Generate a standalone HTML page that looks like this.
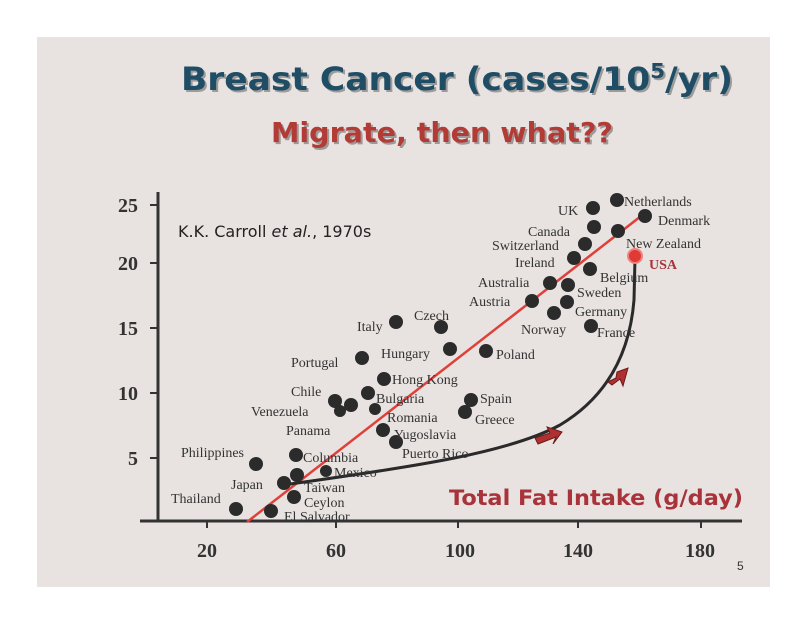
<!DOCTYPE html>
<html><head><meta charset="utf-8"><style>
html,body{margin:0;padding:0;background:#fff;}
svg{display:block;}
.t{font-family:"Liberation Serif",serif;font-size:14px;fill:#333;}
.n{font-family:"Liberation Serif",serif;font-size:20px;font-weight:bold;fill:#333;}
</style></head><body>
<svg width="805" height="622" viewBox="0 0 805 622" xmlns="http://www.w3.org/2000/svg">
<rect x="0" y="0" width="805" height="622" fill="#fff"/>
<rect x="37" y="37" width="733" height="550" fill="#e8e3e1"/>
<g font-family="DejaVu Sans, sans-serif" font-weight="bold">
<text x="183" y="92" font-size="32" fill="#555" opacity="0.5" textLength="552" lengthAdjust="spacingAndGlyphs">Breast Cancer (cases/10<tspan dy="-12" font-size="20">5</tspan><tspan dy="12">/yr)</tspan></text>
<text x="181" y="90" font-size="32" fill="#1f4d65" textLength="552" lengthAdjust="spacingAndGlyphs">Breast Cancer (cases/10<tspan dy="-12" font-size="20">5</tspan><tspan dy="12">/yr)</tspan></text>
<text x="273" y="144" font-size="28" fill="#555" opacity="0.5" textLength="342" lengthAdjust="spacingAndGlyphs">Migrate, then what??</text>
<text x="271" y="142" font-size="28" fill="#b23b36" textLength="342" lengthAdjust="spacingAndGlyphs">Migrate, then what??</text>
<text x="449" y="505" font-size="21" fill="#a8333a" textLength="294" lengthAdjust="spacingAndGlyphs">Total Fat Intake (g/day)</text>
</g>
<text x="178" y="237" font-family="DejaVu Sans, sans-serif" font-size="16" fill="#222">K.K. Carroll <tspan font-style="italic">et al.</tspan>, 1970s</text>
<line x1="158" y1="192" x2="158" y2="522" stroke="#333" stroke-width="3"/>
<line x1="140" y1="521" x2="742" y2="521" stroke="#333" stroke-width="3"/>
<g stroke="#333" stroke-width="2">
<line x1="150" y1="205" x2="158" y2="205"/><line x1="150" y1="263" x2="158" y2="263"/>
<line x1="150" y1="328" x2="158" y2="328"/><line x1="150" y1="393" x2="158" y2="393"/>
<line x1="150" y1="458" x2="158" y2="458"/>
<line x1="207" y1="521" x2="207" y2="528"/><line x1="336" y1="521" x2="336" y2="528"/>
<line x1="458" y1="521" x2="458" y2="528"/><line x1="578" y1="521" x2="578" y2="528"/>
<line x1="701" y1="521" x2="701" y2="528"/>
</g>
<g text-anchor="end">
<text x="138" y="212" class="n">25</text><text x="138" y="270" class="n">20</text>
<text x="138" y="335" class="n">15</text><text x="138" y="400" class="n">10</text>
<text x="138" y="465" class="n">5</text>
</g>
<g text-anchor="middle">
<text x="207" y="557" class="n" font-size="21">20</text><text x="336" y="557" class="n" font-size="21">60</text>
<text x="460" y="557" class="n" font-size="21">100</text><text x="578" y="557" class="n" font-size="21">140</text>
<text x="700" y="557" class="n" font-size="21">180</text>
</g>
<text x="737" y="570" font-family="Liberation Sans,sans-serif" font-size="12" fill="#333">5</text>
<line x1="247" y1="522" x2="645" y2="213" stroke="#e0403a" stroke-width="2.5"/>
<path d="M290,484 C420,466 510,452 560,425 C610,395 630,350 634,300 L635,258" fill="none" stroke="#2a2a2a" stroke-width="3"/>
<polygon points="538,444 556,437 553,444 562,432 547,427 550,433 535,438" fill="#b03030" stroke="#6a1a1a"/>
<polygon points="612,385 620,379 623,386 628,368 617,372 616,378 608,382" fill="#b03030" stroke="#6a1a1a"/>
<g fill="#2b2b2b">
<circle cx="236" cy="509" r="7"/><circle cx="271" cy="511" r="7"/><circle cx="294" cy="497" r="7"/>
<circle cx="284" cy="483" r="7"/><circle cx="297" cy="475" r="7"/><circle cx="326" cy="471" r="6"/>
<circle cx="296" cy="455" r="7"/><circle cx="256" cy="464" r="7"/>
<circle cx="383" cy="430" r="7"/><circle cx="396" cy="442" r="7"/><circle cx="375" cy="409" r="6"/>
<circle cx="368" cy="393" r="7"/><circle cx="384" cy="379" r="7"/><circle cx="335" cy="401" r="7"/>
<circle cx="351" cy="405" r="7"/><circle cx="340" cy="411" r="6"/><circle cx="362" cy="358" r="7"/>
<circle cx="396" cy="322" r="7"/><circle cx="441" cy="327" r="7"/><circle cx="450" cy="349" r="7"/>
<circle cx="486" cy="351" r="7"/><circle cx="471" cy="400" r="7"/><circle cx="465" cy="412" r="7"/>
<circle cx="532" cy="301" r="7"/><circle cx="550" cy="283" r="7"/><circle cx="568" cy="285" r="7"/>
<circle cx="567" cy="302" r="7"/><circle cx="554" cy="313" r="7"/><circle cx="591" cy="326" r="7"/>
<circle cx="590" cy="269" r="7"/><circle cx="574" cy="258" r="7"/><circle cx="585" cy="244" r="7"/>
<circle cx="594" cy="227" r="7"/><circle cx="593" cy="208" r="7"/><circle cx="617" cy="200" r="7"/>
<circle cx="645" cy="216" r="7"/><circle cx="618" cy="231" r="7"/>
</g>
<circle cx="635" cy="256" r="7" fill="#e03a35" stroke="#f08080" stroke-width="2"/>
<g>
<text x="171" y="503" class="t">Thailand</text>
<text x="284" y="521" class="t">El Salvador</text>
<text x="304" y="507" class="t">Ceylon</text>
<text x="231" y="489" class="t">Japan</text>
<text x="304" y="492" class="t">Taiwan</text>
<text x="334" y="477" class="t">Mexico</text>
<text x="303" y="462" class="t">Columbia</text>
<text x="181" y="457" class="t">Philippines</text>
<text x="286" y="435" class="t">Panama</text>
<text x="394" y="439" class="t">Yugoslavia</text>
<text x="402" y="458" class="t">Puerto Rico</text>
<text x="387" y="422" class="t">Romania</text>
<text x="376" y="403" class="t">Bulgaria</text>
<text x="392" y="384" class="t">Hong Kong</text>
<text x="291" y="396" class="t">Chile</text>
<text x="251" y="416" class="t">Venezuela</text>
<text x="291" y="367" class="t">Portugal</text>
<text x="357" y="331" class="t">Italy</text>
<text x="414" y="320" class="t">Czech</text>
<text x="381" y="358" class="t">Hungary</text>
<text x="496" y="359" class="t">Poland</text>
<text x="480" y="403" class="t">Spain</text>
<text x="475" y="424" class="t">Greece</text>
<text x="469" y="306" class="t">Austria</text>
<text x="478" y="287" class="t">Australia</text>
<text x="577" y="297" class="t">Sweden</text>
<text x="575" y="316" class="t">Germany</text>
<text x="521" y="334" class="t">Norway</text>
<text x="597" y="337" class="t">France</text>
<text x="600" y="282" class="t">Belgium</text>
<text x="515" y="267" class="t">Ireland</text>
<text x="492" y="250" class="t">Switzerland</text>
<text x="528" y="236" class="t">Canada</text>
<text x="558" y="215" class="t">UK</text>
<text x="624" y="206" class="t">Netherlands</text>
<text x="658" y="225" class="t">Denmark</text>
<text x="626" y="248" class="t">New Zealand</text>
<text x="649" y="269" font-family="Liberation Serif,serif" font-size="14" font-weight="bold" fill="#a8333a">USA</text>
</g>
</svg>
</body></html>
